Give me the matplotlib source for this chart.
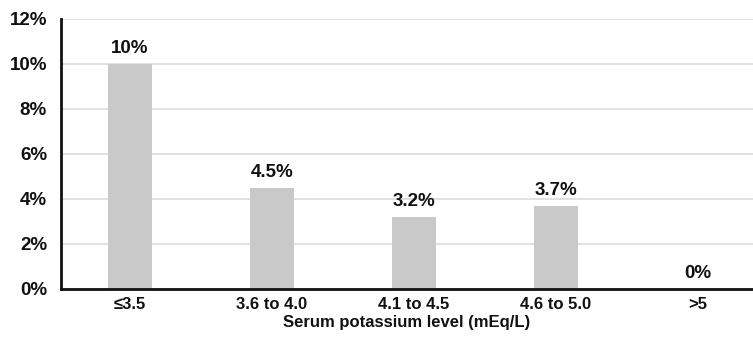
import matplotlib
matplotlib.use('Agg')
import matplotlib.pyplot as plt
import numpy as np

categories = ['≤3.5', '3.6 to 4.0', '4.1 to 4.5', '4.6 to 5.0', '>5']
values = [10, 4.5, 3.2, 3.7, 0]
value_labels = ['10%', '4.5%', '3.2%', '3.7%', '0%']
yticks = [0, 2, 4, 6, 8, 10, 12]

plt.rcParams['font.family'] = ['Liberation Sans', 'DejaVu Sans']
plt.rcParams['font.weight'] = 'bold'

fig = plt.figure(figsize=(7.53, 3.38), dpi=100)
ax = fig.add_axes([0.081, 0.145, 0.919, 0.799])

x = np.arange(len(categories))
bars = ax.bar(x, values, width=0.31, color='#c9c9c9', zorder=2)

for xi, v, lab in zip(x, values, value_labels):
    ax.annotate(lab, (xi, v), xytext=(0, 5), textcoords='offset points',
                ha='center', va='bottom', fontsize=13.5, fontweight='bold', color='#111111')

ax.set_xlim(-0.486, 4.39)
ax.set_ylim(0, 12)
ax.set_yticks(yticks)
ax.set_yticklabels([f'{t}%' for t in yticks])
ax.set_xticks(x)
ax.set_xticklabels(categories)
ax.tick_params(axis='both', length=0, colors='#111111')
ax.tick_params(axis='y', pad=10, labelsize=13.5)
ax.tick_params(axis='x', pad=6, labelsize=12)
for lab in ax.get_xticklabels() + ax.get_yticklabels():
    lab.set_fontweight('bold')

ax.yaxis.grid(True, color='#dcdcdc', linewidth=1.2, zorder=0)
ax.set_axisbelow(True)
for s in ['top', 'right']:
    ax.spines[s].set_visible(False)
for s in ['left', 'bottom']:
    ax.spines[s].set_linewidth(2)
    ax.spines[s].set_color('#111111')

ax.set_xlabel('Serum potassium level (mEq/L)', fontsize=12, fontweight='bold',
              color='#111111', labelpad=2)

fig.savefig('out.png', dpi=100)
